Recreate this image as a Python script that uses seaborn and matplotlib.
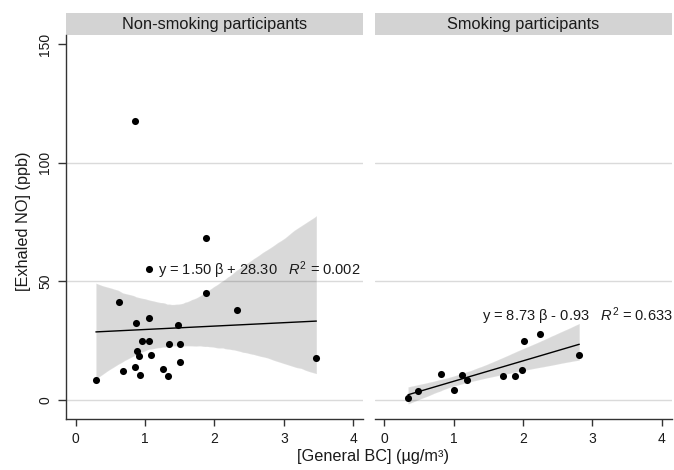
"""
Exhaled NO vs general BC, split by smoking status (two panels, linear fit + 95% CI)
"""

import matplotlib
matplotlib.use("Agg")

import matplotlib.pyplot as plt
from matplotlib.patches import Rectangle
import seaborn as sns
import numpy as np
import pandas as pd

# --- data ---
bc_nonsmoking = [0.29, 0.62, 0.68, 0.86, 0.87, 0.89, 0.91, 0.93, 0.95, 1.06, 1.06, 1.09,
                 1.06, 1.26, 1.33, 1.35, 1.48, 1.51, 1.51, 1.88, 1.88, 2.33, 3.47, 0.86]
no_nonsmoking = [8.4, 41.5, 12.3, 14.0, 32.4, 20.5, 18.7, 10.6, 25.0, 25.0, 34.7, 19.0,
                 55.4, 13.1, 10.0, 23.7, 31.4, 23.8, 15.9, 45.2, 68.1, 38.0, 17.6, 117.7]

bc_smoking = [0.34, 0.48, 0.82, 1.00, 1.12, 1.19, 1.71, 1.89, 1.99, 2.02, 2.24, 2.81]
no_smoking = [0.8, 3.8, 10.8, 4.1, 10.6, 8.6, 10.0, 10.0, 12.8, 25.0, 27.8, 18.8]

panel_titles = ["Non-smoking participants", "Smoking participants"]
fit_labels = [r"y = 1.50 β + 28.30   $R^2$ = 0.002",
              r"y = 8.73 β - 0.93   $R^2$ = 0.633"]
fit_label_pos = [(1.18, 54.8), (1.40, 35.4)]

x_ticks = [0, 1, 2, 3, 4]
y_ticks = [0, 50, 100, 150]
grid_levels = [0, 50, 100]

df = pd.DataFrame({
    "bc": bc_nonsmoking + bc_smoking,
    "no": no_nonsmoking + no_smoking,
    "group": [panel_titles[0]] * len(bc_nonsmoking) + [panel_titles[1]] * len(bc_smoking),
})

sns.set_style("white")
plt.rcParams["font.family"] = ["Liberation Sans", "DejaVu Sans"]
plt.rcParams["mathtext.fontset"] = "custom"
plt.rcParams["mathtext.rm"] = "Liberation Sans"
plt.rcParams["mathtext.it"] = "Liberation Sans:italic"
plt.rcParams["text.color"] = "#1a1a1a"
plt.rcParams["xtick.color"] = "#333333"
plt.rcParams["ytick.color"] = "#333333"
plt.rcParams["xtick.labelcolor"] = "#1a1a1a"
plt.rcParams["ytick.labelcolor"] = "#1a1a1a"

fig, axes = plt.subplots(1, 2, figsize=(6.74, 4.70), dpi=100, sharey=True)
fig.subplots_adjust(left=0.098, right=0.9963, bottom=0.1085, top=0.9255, wspace=0.040)

strip_h = 22 / 384

for i, (ax, title) in enumerate(zip(axes, panel_titles)):
    sub = df[df["group"] == title]
    for lv in grid_levels:
        ax.axhline(lv, color="#dadada", lw=1.0, zorder=0)
    sns.regplot(
        data=sub, x="bc", y="no", ax=ax, ci=95, seed=3, n_boot=2000,
        color="black",
        scatter_kws={"s": 26, "alpha": 1, "zorder": 4, "linewidths": 0},
        line_kws={"lw": 1.0, "zorder": 3},
    )
    ax.set_xlim(-0.14, 4.14)
    ax.set_ylim(-8.0, 153.8)
    ax.set_xticks(x_ticks)
    ax.set_yticks(y_ticks)
    ax.set_xlabel("")
    ax.set_ylabel("")
    ax.tick_params(axis="x", bottom=True, length=5, width=1, pad=4, labelsize=10)
    ax.tick_params(axis="y", left=True, length=6, width=1, pad=4, labelsize=10,
                   labelrotation=90)
    for lab in ax.get_yticklabels():
        lab.set_va("center")

    sns.despine(ax=ax, top=True, right=True, left=(i == 1))
    for side in ("left", "bottom"):
        ax.spines[side].set_color("#333333")
        ax.spines[side].set_linewidth(1.0)
    if i == 1:
        ax.tick_params(axis="y", left=False, labelleft=False)

    # strip header
    ax.add_patch(Rectangle((0, 1), 1, strip_h, transform=ax.transAxes,
                           facecolor="#d3d3d3", edgecolor="none", clip_on=False))
    ax.text(0.5, 1 + strip_h / 2, title, transform=ax.transAxes,
            ha="center", va="center", fontsize=11.8)

    fx, fy = fit_label_pos[i]
    ax.text(fx, fy, fit_labels[i], ha="left", va="center", fontsize=10.5, zorder=5)

fig.text(373 / 674, 1 - 457 / 470, "[General BC] (µg/m³)", ha="center", va="center",
         fontsize=11.7)
fig.text(24 / 674, 1 - 221 / 470, "[Exhaled NO] (ppb)", ha="center", va="center",
         rotation=90, fontsize=11.7)

fig.savefig("out.png", dpi=100)
